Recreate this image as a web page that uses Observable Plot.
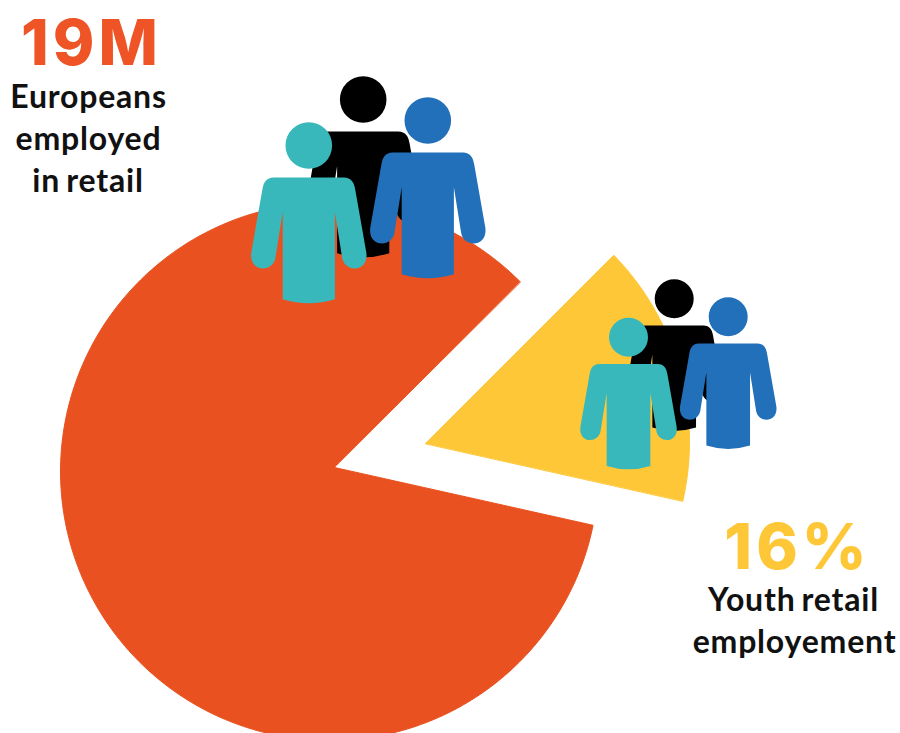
<!DOCTYPE html>
<html>
<head>
<meta charset="utf-8">
<script src="https://cdn.jsdelivr.net/npm/d3@7"></script>
<script src="https://cdn.jsdelivr.net/npm/@observablehq/plot@0.6"></script>
<style>
  html, body { margin: 0; padding: 0; background: #fff; }
  svg { display: block; }
  /* Open up the headline figures and the labels a little */
  g[font-size="63"] text { letter-spacing: 4px; }
  g[font-size="32"] text { letter-spacing: 0.8px; word-spacing: -2.5px; }
</style>
</head>
<body>
<div id="chart"></div>
<script>
// Youth share of European retail employment
const shareLabels = ["Other retail employment", "Youth retail employment"];
const shareValues = [84, 16];
const shareColors = ["#E95220", "#FEC737"];

// Where each wedge sits on the page: tip of the wedge, then the circle its rim follows
const wedgeTipX = [334, 425];
const wedgeTipY = [467, 443];
const rimCenterX = [329, 422];
const rimCenterY = [471, 441];
const rimRadius = [269, 267];

// Callouts
const calloutText = ["19M", "Europeans", "employed", "in retail", "16%", "Youth retail", "employement"];
const calloutX = [91, 88, 88, 87.5, 797, 793, 794];
const calloutY = [64, 107, 149, 191.5, 568, 610, 652];
const calloutSize = [63, 32, 32, 32, 63, 32, 32];
const calloutWeight = [800, 700, 700, 700, 800, 700, 700];
const calloutFont = ["Inter", "Lato", "Lato", "Lato", "Inter", "Lato", "Lato"];
const calloutColor = ["#EE5425", "#111", "#111", "#111", "#FEC737", "#111", "#111"];

// People standing on each wedge, back row first
const personGroup = [0, 0, 0, 1, 1, 1];
const personX = [362.7, 308.3, 427.3, 673.7, 628, 727.7];
const personY = [99, 145, 120, 298.3, 336.7, 316.3];
const personColor = ["#000000", "#38B8BA", "#2270B9", "#000000", "#38B8BA", "#2270B9"];
const groupHeadRadius = [23.3, 19.5];

// Wedge angles, clockwise from north, with the youth slice starting at 45 degrees
const firstAngle = 45;
const sweeps = shareValues.map(v => v / d3.sum(shareValues) * 360);
const wedgeStart = [firstAngle + sweeps[1], firstAngle];
const wedgeEnd = [firstAngle + sweeps[1] + sweeps[0], firstAngle + sweeps[1]];

// Outline of a wedge: tip, then each rim point found by casting a ray from the tip onto the rim circle
function wedgeOutline(i) {
  const pts = [{x: wedgeTipX[i], y: wedgeTipY[i], slice: shareLabels[i]}];
  const ox = wedgeTipX[i] - rimCenterX[i];
  const oy = wedgeTipY[i] - rimCenterY[i];
  const steps = Math.ceil(wedgeEnd[i] - wedgeStart[i]);
  for (let k = 0; k <= steps; ++k) {
    const a = (wedgeStart[i] + (wedgeEnd[i] - wedgeStart[i]) * k / steps) * Math.PI / 180;
    const dx = Math.sin(a), dy = -Math.cos(a);
    const b = dx * ox + dy * oy;
    const t = -b + Math.sqrt(b * b - (ox * ox + oy * oy - rimRadius[i] ** 2));
    pts.push({x: wedgeTipX[i] + t * dx, y: wedgeTipY[i] + t * dy, slice: shareLabels[i]});
  }
  return pts;
}

// Person pictogram, in units of the head radius with the head centred on the origin
const personSymbol = {
  draw(context, size) {
    const r = Math.sqrt(size / Math.PI);
    const u = v => v * r;
    context.moveTo(u(1), 0);
    context.arc(0, 0, r, 0, 2 * Math.PI);
    context.closePath();
    context.moveTo(u(-1.5), u(1.37));
    context.lineTo(u(1.5), u(1.37));
    context.bezierCurveTo(u(1.82), u(1.37), u(1.95), u(1.58), u(2.0), u(1.93));
    context.lineTo(u(2.47), u(4.6));
    context.bezierCurveTo(u(2.58), u(5.45), u(1.5), u(5.5), u(1.42), u(4.75));
    context.lineTo(u(1.12), u(2.86));
    context.lineTo(u(1.12), u(6.6));
    context.quadraticCurveTo(0, u(6.95), u(-1.12), u(6.6));
    context.lineTo(u(-1.12), u(2.86));
    context.lineTo(u(-1.42), u(4.75));
    context.bezierCurveTo(u(-1.5), u(5.5), u(-2.58), u(5.45), u(-2.47), u(4.6));
    context.lineTo(u(-2.0), u(1.93));
    context.bezierCurveTo(u(-1.95), u(1.58), u(-1.82), u(1.37), u(-1.5), u(1.37));
    context.closePath();
  }
};

const people = personX.map((x, i) => ({x, y: personY[i], color: personColor[i], group: personGroup[i]}));
const callouts = calloutText.map((text, i) => ({
  text, x: calloutX[i], y: calloutY[i], size: calloutSize[i], weight: calloutWeight[i], font: calloutFont[i], color: calloutColor[i]
}));

const wedgeMarks = shareValues.map((_, i) => Plot.line(wedgeOutline(i), {
  x: "x", y: "y", curve: "linear-closed",
  fill: shareColors[i], stroke: shareColors[i], strokeWidth: 1, strokeLinejoin: "round"
}));

const personMarks = groupHeadRadius.map((r, g) => Plot.dot(people.filter(d => d.group === g), {
  x: "x", y: "y", r, symbol: personSymbol, fill: "color", stroke: "none"
}));

const textMarks = d3.groups(callouts, d => `${d.size}|${d.weight}|${d.color}`).map(([, rows]) => Plot.text(rows, {
  x: "x", y: "y", text: "text", textAnchor: "middle", lineAnchor: "bottom",
  fontFamily: rows[0].font, fontSize: rows[0].size, fontWeight: rows[0].weight, fill: rows[0].color
}));

document.getElementById("chart").append(Plot.plot({
  width: 900,
  height: 733,
  margin: 0,
  x: {domain: [0, 900], range: [0, 900], axis: null},
  y: {domain: [0, 733], range: [0, 733], axis: null},
  color: {type: "identity"},
  marks: [...wedgeMarks, ...personMarks, ...textMarks]
}));
</script>
</body>
</html>
